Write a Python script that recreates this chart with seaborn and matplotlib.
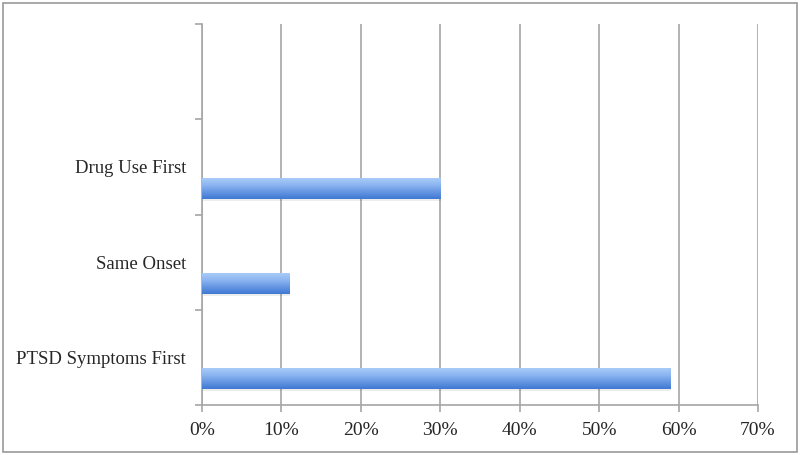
import numpy as np
import pandas as pd
import matplotlib
matplotlib.use("Agg")
import matplotlib.pyplot as plt
import matplotlib.patches as mpatches
from matplotlib.colors import LinearSegmentedColormap
import seaborn as sns

# data
categories = ["PTSD Symptoms First", "Same Onset", "Drug Use First"]
values = [59, 11, 30]
order = ["", "Drug Use First", "Same Onset", "PTSD Symptoms First"]
x_ticks = [0, 10, 20, 30, 40, 50, 60, 70]
x_labels = ["0%", "10%", "20%", "30%", "40%", "50%", "60%", "70%"]

df = pd.DataFrame({"cat": categories, "val": values})

sns.set_style("white")
plt.rcParams["font.family"] = ["Liberation Serif", "DejaVu Serif"]

fig = plt.figure(figsize=(8, 4.55), dpi=100)
ax = fig.add_axes([0.2525, 0.11, 0.695, 0.837])

sns.barplot(data=df, x="val", y="cat", order=order, orient="h",
            width=0.22, color="#6b9be6", ax=ax, zorder=3)

grey = "#a6a6a6"
cmap = LinearSegmentedColormap.from_list(
    "bar", ["#a8cbf8", "#8cb5f1", "#6596e3", "#3f79d2"])
grad = np.linspace(0, 1, 64).reshape(-1, 1)

for p in list(ax.patches):
    # shift bar into the lower half of its slot
    p.set_y(p.get_y() + 0.225)
    x0, y0 = p.get_x(), p.get_y()
    w, h = p.get_width(), p.get_height()
    # soft shadow
    ax.add_patch(mpatches.Rectangle((x0 + 0.1, y0 + 0.02), w, h,
                                    facecolor="#000000", alpha=0.07,
                                    edgecolor="none", zorder=2))
    p.set_facecolor("none")
    p.set_edgecolor("none")
    im = ax.imshow(grad, cmap=cmap, aspect="auto",
                   extent=(x0, x0 + w, y0 + h, y0), zorder=3.5,
                   interpolation="bicubic")
    im.set_clip_path(p)

ax.set_xlim(0, 70)
ax.set_ylim(3.5, -0.5)
ax.set_xticks(x_ticks)
ax.set_xticklabels(x_labels, fontsize=14)
ax.set_yticks(range(len(order)))
ax.set_yticklabels(order, fontsize=13.5)
ax.set_yticks(np.arange(-0.5, 4, 1), minor=True)
ax.tick_params(axis="y", which="major", length=0, pad=11.5)
ax.tick_params(axis="y", which="minor", length=5, color=grey, width=1.2,
               direction="out", left=True)
ax.tick_params(axis="x", length=5, color=grey, width=1.2,
               direction="out", bottom=True, pad=7)
ax.set_xlabel("")
ax.set_ylabel("")

ax.grid(axis="x", color=grey, linewidth=1.2, zorder=0)
ax.set_axisbelow(True)
sns.despine(ax=ax, top=True, right=True)
for side in ["left", "bottom"]:
    ax.spines[side].set_color(grey)
    ax.spines[side].set_linewidth(1.2)

fig.patches.append(mpatches.Rectangle((0.004, 0.006), 0.992, 0.988,
                                      transform=fig.transFigure,
                                      fill=False, edgecolor="#9a9a9a",
                                      linewidth=1.2))

plt.savefig("out.png", dpi=100)
